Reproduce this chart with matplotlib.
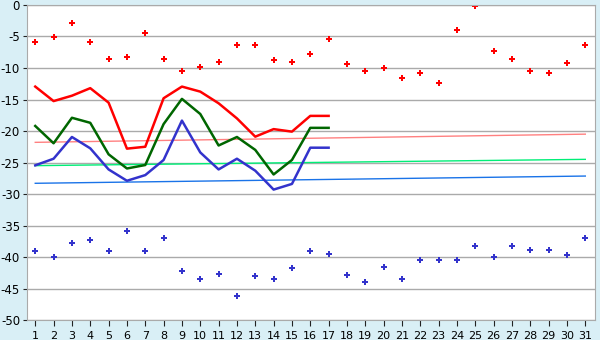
import matplotlib
matplotlib.use('Agg')
import matplotlib.pyplot as plt

plt.rcParams['axes.unicode_minus'] = False

days = list(range(1, 32))

# record highs / lows (points)
rec_max = [-5.9, -5.1, -2.9, -5.9, -8.5, -8.3, -4.5, -8.5, -10.5, -9.9,
           -9.1, -6.4, -6.4, -8.8, -9.1, -7.8, -5.45, -9.4, -10.5, -10.05,
           -11.6, -10.85, -12.4, -4.0, -0.2, -7.35, -8.5, -10.5, -10.85, -9.25, -6.4]
rec_min = [-39.1, -40.05, -37.8, -37.35, -39.1, -35.9, -39.1, -37.05, -42.3, -43.5,
           -42.75, -46.2, -43.05, -43.5, -41.8, -39.1, -39.6, -42.9, -44.0, -41.6,
           -43.5, -40.5, -40.5, -40.5, -38.3, -40.05, -38.3, -38.9, -38.9, -39.7, -37.05]

# current month (days 1-17)
cur_days = list(range(1, 18))
cur_max = [-12.95, -15.25, -14.4, -13.2, -15.5, -22.8, -22.5, -14.8, -12.95, -13.75,
           -15.6, -18.0, -20.9, -19.7, -20.1, -17.6, -17.6]
cur_avg = [-19.2, -21.95, -17.9, -18.7, -23.7, -25.95, -25.4, -18.9, -14.9, -17.3,
           -22.3, -20.95, -23.0, -26.9, -24.6, -19.5, -19.5]
cur_min = [-25.45, -24.4, -20.95, -22.75, -26.1, -27.9, -27.0, -24.6, -18.35, -23.4,
           -26.1, -24.4, -26.3, -29.3, -28.4, -22.65, -22.65]

# climate norms (start / end of month)
norm_days = [1, 31]
norm_max = [-21.8, -20.5]
norm_avg = [-25.5, -24.5]
norm_min = [-28.3, -27.15]

fig = plt.figure(figsize=(6, 3.4), dpi=100, facecolor='#d9eff6')
ax = fig.add_axes([0.045, 0.0588, 0.9467, 0.9265])
ax.set_facecolor('white')

ax.plot(norm_days, norm_max, color='#ff8080', lw=1)
ax.plot(norm_days, norm_avg, color='#00ee77', lw=1)
ax.plot(norm_days, norm_min, color='#1a73e8', lw=1)

ax.plot(cur_days, cur_max, color='#ff0000', lw=1.8)
ax.plot(cur_days, cur_avg, color='#006600', lw=1.8)
ax.plot(cur_days, cur_min, color='#3333cc', lw=1.8)

ax.plot(days, rec_max, ls='none', marker='P', ms=4.2, color='#ff0000', mew=0)
ax.plot(days, rec_min, ls='none', marker='P', ms=4.2, color='#3333cc', mew=0)

ax.set_xlim(0.55, 31.53)
ax.set_ylim(-50, 0)
ax.set_xticks(days)
ax.set_yticks(range(-50, 1, 5))
ax.yaxis.grid(True, color='#aaaaaa', lw=1)
ax.set_axisbelow(True)
for s in ax.spines.values():
    s.set_color('#aaaaaa')
ax.tick_params(axis='x', length=4, labelsize=8, pad=4, color='#222222', labelcolor='#000000')
ax.tick_params(axis='y', length=3, labelsize=8.5, pad=2, color='#222222', labelcolor='#000000')

fig.savefig('out.png', dpi=100, facecolor=fig.get_facecolor())
